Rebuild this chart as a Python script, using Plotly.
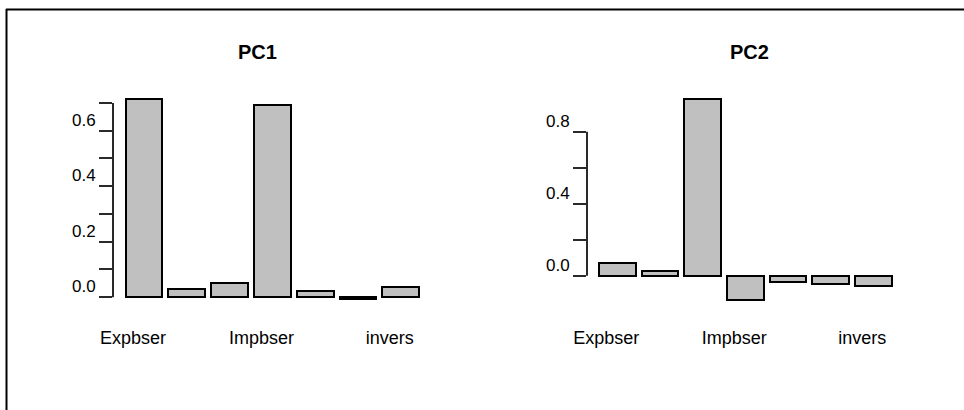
import plotly.graph_objects as go

# Loadings of the seven variables on the first two principal components
positions = [1, 2, 3, 4, 5, 6, 7]
pc1_loadings = [0.714, 0.030, 0.053, 0.694, 0.024, -0.005, 0.037]
pc2_loadings = [0.072, 0.026, 0.980, -0.135, -0.035, -0.046, -0.057]

# Only every third variable gets a label on the category axis
label_positions = [1, 4, 7]
label_text = ["Expbser", "Impbser", "invers"]

pc1_ticks = [0.0, 0.1, 0.2, 0.3, 0.4, 0.5, 0.6, 0.7]
pc1_ticktext = ["0.0", "", "0.2", "", "0.4", "", "0.6", ""]
pc2_ticks = [0.0, 0.2, 0.4, 0.6, 0.8]
pc2_ticktext = ["0.0", "", "0.4", "", "0.8"]

W, H = 964, 410
FONT = "Liberation Sans, Arial, sans-serif"
BAR_FILL = "#c0c0c0"
INK = "#000000"
AXIS_INK = "#2a2a2a"


def px_x(p):
    return p / W


def px_y(p):
    return 1 - p / H


fig = go.Figure()

bar_style = dict(
    marker=dict(color=BAR_FILL, line=dict(color=INK, width=2)),
    width=0.86,
    showlegend=False,
    hoverinfo="x+y",
)
fig.add_trace(go.Bar(x=positions, y=pc1_loadings, xaxis="x", yaxis="y", **bar_style))
fig.add_trace(go.Bar(x=positions, y=pc2_loadings, xaxis="x2", yaxis="y2", **bar_style))

plot_top, plot_bottom = 95, 325

common_x = dict(
    tickmode="array",
    tickvals=label_positions,
    ticktext=label_text,
    ticks="",
    showline=False,
    showgrid=False,
    zeroline=False,
    automargin=False,
    tickfont=dict(family=FONT, size=18, color=INK),
    ticklabelshift=-11,
    fixedrange=True,
)
common_y = dict(
    tickmode="array",
    ticks="outside",
    ticklen=13,
    tickwidth=2,
    tickcolor=AXIS_INK,
    showline=False,
    showgrid=False,
    zeroline=False,
    automargin=False,
    tickfont=dict(family=FONT, size=17, color=INK),
    ticklabelshift=-11,
    fixedrange=True,
)

fig.update_layout(
    width=W,
    height=H,
    margin=dict(l=0, r=0, t=0, b=0, autoexpand=False),
    paper_bgcolor="white",
    plot_bgcolor="white",
    bargap=0,
    xaxis=dict(domain=[px_x(113), px_x(430)], range=[0.276, 7.682], anchor="y", **common_x),
    yaxis=dict(domain=[px_y(plot_bottom), px_y(plot_top)], range=[-0.1, 0.7285],
               tickvals=pc1_ticks, ticktext=pc1_ticktext, anchor="x", **common_y),
    xaxis2=dict(domain=[px_x(587), px_x(905)], range=[0.29, 7.745], anchor="y2", **common_x),
    yaxis2=dict(domain=[px_y(plot_bottom), px_y(plot_top)], range=[-0.274, 1.004],
                tickvals=pc2_ticks, ticktext=pc2_ticktext, anchor="x2", **common_y),
)

# Axis spines run only from the first to the last tick
for xd, yref, ticks in (("x domain", "y", pc1_ticks), ("x2 domain", "y2", pc2_ticks)):
    fig.add_shape(type="line", xref=xd, yref=yref, x0=0, x1=0,
                  y0=ticks[0], y1=ticks[-1], line=dict(color=AXIS_INK, width=2))

# Panel titles
for cx, text in ((257, "PC1"), (749, "PC2")):
    fig.add_annotation(x=px_x(cx), y=px_y(52), xref="paper", yref="paper",
                       text=f"<b>{text}</b>", showarrow=False,
                       font=dict(family=FONT, size=20, color=INK),
                       xanchor="center", yanchor="middle")

# Frame lines along the top and left edges
fig.add_shape(type="line", xref="paper", yref="paper",
              x0=px_x(6), x1=1, y0=px_y(9.5), y1=px_y(9.5),
              line=dict(color=INK, width=2))
fig.add_shape(type="line", xref="paper", yref="paper",
              x0=px_x(6.5), x1=px_x(6.5), y0=px_y(9), y1=0,
              line=dict(color=INK, width=2))

fig.write_html("out.html")
